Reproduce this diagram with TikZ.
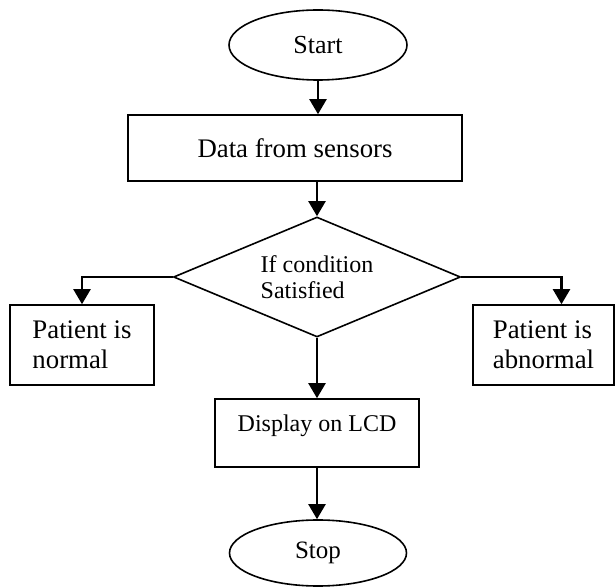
\documentclass[tikz,border=0pt]{standalone}
\usepackage{fontspec}
\setmainfont{Liberation Serif}
\usetikzlibrary{shapes.geometric,arrows.meta}

\begin{document}
\begin{tikzpicture}[x=0.5pt,y=-0.5pt,
        >={Triangle[length=7.5pt,width=8.5pt]},
        term/.style={draw,ellipse,line width=0.8pt,inner sep=0pt},
        box/.style={draw,rectangle,line width=0.8pt,inner sep=0pt},
        cond/.style={draw,diamond,line width=0.8pt,inner sep=0pt,shape aspect=2.4,align=left},
        flow/.style={->,line width=1.1pt}]
            \useasboundingbox (0,0) rectangle (616,588);

            \node[term,minimum width=89pt,minimum height=35pt,font=\fontsize{13}{15}\selectfont] (start) at (318,45) {Start};
            \node[box,minimum width=167pt,minimum height=33pt,font=\fontsize{13.4}{15}\selectfont] (data) at (295,148) {Data from sensors};
            \node[cond,minimum width=143.5pt,minimum height=60pt,font=\fontsize{12}{13}\selectfont] (check) at (317,277) {If condition\\Satisfied};
            \node[box,minimum width=72pt,minimum height=40pt,align=left,font=\fontsize{13.4}{15}\selectfont] (normal) at (82,345) {Patient is\\normal};
            \node[box,minimum width=70.5pt,minimum height=40pt,align=left,font=\fontsize{13.4}{15}\selectfont] (abnormal) at (543.5,345) {Patient is\\abnormal};
            \node[box,minimum width=102pt,minimum height=34pt,text height=9pt,text depth=11pt,font=\fontsize{12}{14}\selectfont] (lcd) at (317,433) {Display on LCD};
            \node[term,minimum width=88.5pt,minimum height=33pt,font=\fontsize{12.5}{14}\selectfont] (stop) at (318,553) {Stop};

            \draw[flow] (start) to (start |- data.north); \draw[flow] (check.north |- data.south) to (check.north);
            \draw[flow] (check.west) -| (normal.north); \draw[flow] (check.east) -| ([xshift=9pt]abnormal.north);
            \draw[flow] (check.south) to (check.south |- lcd.north); \draw[flow] (lcd) to (lcd |- stop.north);
        \end{tikzpicture}
\end{document}
